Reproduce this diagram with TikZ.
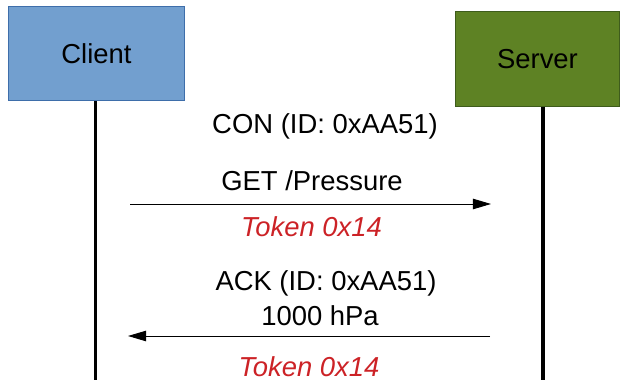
\documentclass[tikz,border=0pt]{standalone}
\usepackage{fontspec}
\setmainfont{Liberation Sans}
\usetikzlibrary{positioning,arrows.meta}
\definecolor{clientblue}{RGB}{114,159,207}
\definecolor{clientedge}{RGB}{62,110,170}
\definecolor{servergreen}{RGB}{94,130,36}
\definecolor{serveredge}{RGB}{62,92,28}
\definecolor{tokenred}{RGB}{204,34,38}
\newcommand{\msgfont}{\fontsize{19.5}{23}\selectfont}

\begin{document}
\begin{tikzpicture}[
        x=0.025cm,y=-0.025cm,
        font=\msgfont,
        actor/.style={draw=#1,line width=0.7pt,inner sep=0pt},
        life/.style={line width=2.2pt,draw=black},
        msg/.style={-{Triangle[length=0.45cm,width=0.26cm]},line width=0.7pt},
        lbl/.style={anchor=base,inner sep=0pt},
        tok/.style={lbl,text=tokenred,font=\msgfont\itshape}
      ]
      \useasboundingbox (0,0) rectangle (620,380);
      \node[actor=clientedge,fill=clientblue,minimum width=4.42cm,minimum height=2.37cm] (client) at (96.5,53.5) {Client};
      \node[actor=serveredge,fill=servergreen,minimum width=4.1cm,minimum height=2.35cm] (server) at (537.5,59) {Server};

      % lifelines
      \coordinate (clientend) at (95.5,380);
      \coordinate (serverend) at (543,380);
      \draw[life] (client.south -| clientend) -- (clientend);
      \draw[life] (server.south -| serverend) -- (serverend);

      % request
      \coordinate (reqfrom) at (130,204);
      \coordinate (reqto) at (491,204);
      \node[lbl] (con) at (325,134) {CON (ID: 0xAA51)};
      \node[lbl] (get) at (312,191) {GET /Pressure};
      \node[tok] (reqtok) at (311.5,237) {Token 0x14};
      \draw[msg] (reqfrom) -- (reqto);

      % response
      \coordinate (resfrom) at (490,336);
      \coordinate (resto) at (128,336);
      \node[lbl] (ack) at (326,291) {ACK (ID: 0xAA51)};
      \node[lbl] (val) at (320,326) {1000 hPa};
      \node[tok] (restok) at (309,376) {Token 0x14};
      \draw[msg] (resfrom) -- (resto);
    \end{tikzpicture}
\end{document}
